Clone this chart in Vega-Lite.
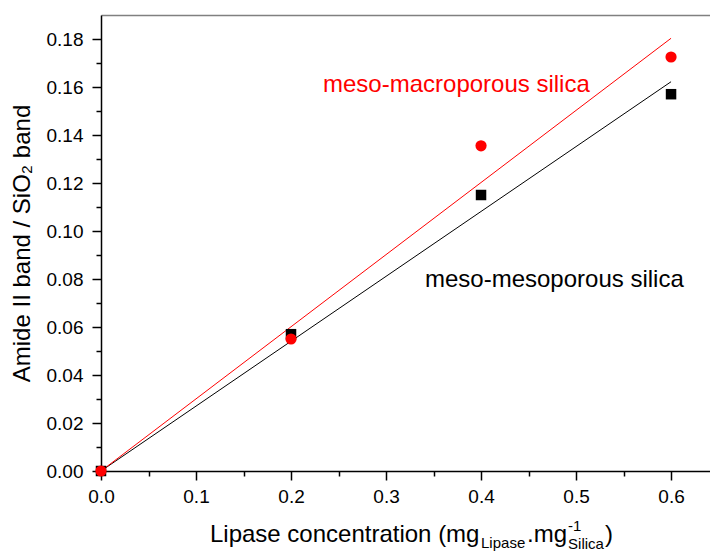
{
  "$schema": "https://vega.github.io/schema/vega-lite/v6.json",
  "width": 609,
  "height": 456,
  "autosize": {"type": "none"},
  "padding": {"left": 101, "top": 15, "right": 0, "bottom": 80},
  "config": {"view": {"stroke": null}, "font": "Liberation Sans"},
  "datasets": {
    "points": [
      {"series": "meso-mesoporous", "x": 0.0, "y": 0.0},
      {"series": "meso-mesoporous", "x": 0.2, "y": 0.057},
      {"series": "meso-mesoporous", "x": 0.4, "y": 0.115},
      {"series": "meso-mesoporous", "x": 0.6, "y": 0.157},
      {"series": "meso-macroporous", "x": 0.0, "y": 0.0},
      {"series": "meso-macroporous", "x": 0.2, "y": 0.055},
      {"series": "meso-macroporous", "x": 0.4, "y": 0.1355},
      {"series": "meso-macroporous", "x": 0.6, "y": 0.1725}
    ],
    "fits": [
      {"series": "meso-mesoporous", "x": 0.0, "y": 0.0},
      {"series": "meso-mesoporous", "x": 0.6, "y": 0.1622},
      {"series": "meso-macroporous", "x": 0.0, "y": 0.0},
      {"series": "meso-macroporous", "x": 0.6, "y": 0.1803}
    ],
    "one": [{}]
  },
  "resolve": {"axis": {"x": "independent", "y": "independent"}},
  "layer": [
    {
      "data": {"name": "fits"},
      "mark": {"type": "line", "strokeWidth": 1},
      "encoding": {
        "x": {"field": "x", "type": "quantitative", "scale": {"domain": [0, 0.641], "nice": false, "zero": false},
          "axis": {"orient": "top", "domainColor": "#808080", "domainWidth": 1.5, "ticks": false, "labels": false, "grid": false, "title": null}},
        "y": {"field": "y", "type": "quantitative", "scale": {"domain": [0, 0.19], "nice": false, "zero": false}, "axis": null},
        "color": {"field": "series", "type": "nominal", "scale": {"domain": ["meso-mesoporous", "meso-macroporous"], "range": ["#000000", "#ff0000"]}, "legend": null}
      }
    },
    {
      "data": {"name": "points"},
      "mark": {"type": "point", "filled": true, "opacity": 1},
      "encoding": {
        "x": {"field": "x", "type": "quantitative",
          "axis": {
            "orient": "bottom",
            "values": [0, 0.05, 0.1, 0.15, 0.2, 0.25, 0.3, 0.35, 0.4, 0.45, 0.5, 0.55, 0.6],
            "labelExpr": "abs(round(datum.value*10)-datum.value*10)<0.01 ? format(datum.value,'.1f') : ''",
            "tickSize": {"condition": {"test": "abs(round(datum.value*10)-datum.value*10)<0.01", "value": 9}, "value": 5},
            "tickColor": "#000000", "tickWidth": 1.5,
            "domainColor": "#000000", "domainWidth": 1.5,
            "labelFontSize": 19, "labelColor": "#000000", "labelPadding": 7,
            "labelFlush": false, "labelOverlap": false, "labelBound": false,
            "grid": false, "title": null
          }},
        "y": {"field": "y", "type": "quantitative",
          "axis": {
            "values": [0, 0.01, 0.02, 0.03, 0.04, 0.05, 0.06, 0.07, 0.08, 0.09, 0.1, 0.11, 0.12, 0.13, 0.14, 0.15, 0.16, 0.17, 0.18],
            "labelExpr": "abs(round(datum.value*50)-datum.value*50)<0.01 ? format(datum.value,'.2f') : ''",
            "tickSize": {"condition": {"test": "abs(round(datum.value*50)-datum.value*50)<0.01", "value": 9}, "value": 5},
            "tickColor": "#000000", "tickWidth": 1.5,
            "domainColor": "#000000", "domainWidth": 1.5,
            "labelFontSize": 19, "labelColor": "#000000", "labelPadding": 9,
            "labelFlush": false, "labelOverlap": false, "labelBound": false,
            "grid": false,
            "title": "Amide II band / SiO₂ band",
            "titleFontSize": 24, "titleFontWeight": "normal", "titleColor": "#000000", "titlePadding": 12
          }},
        "color": {"field": "series", "type": "nominal", "legend": null},
        "shape": {"field": "series", "type": "nominal", "scale": {"domain": ["meso-mesoporous", "meso-macroporous"], "range": ["square", "circle"]}, "legend": null},
        "size": {"field": "series", "type": "nominal", "scale": {"domain": ["meso-mesoporous", "meso-macroporous"], "range": [110, 125]}, "legend": null},
        "order": {"field": "series", "sort": "descending"}
      }
    },
    {
      "data": {"name": "one"},
      "mark": {"type": "text", "text": "meso-macroporous silica", "fontSize": 24, "color": "#ff0000", "align": "left", "baseline": "alphabetic"},
      "encoding": {"x": {"datum": 0.2337, "type": "quantitative", "axis": null}, "y": {"datum": 0.158, "type": "quantitative", "axis": null}}
    },
    {
      "data": {"name": "one"},
      "mark": {"type": "text", "text": "meso-mesoporous silica", "fontSize": 24, "color": "#000000", "align": "left", "baseline": "alphabetic"},
      "encoding": {"x": {"datum": 0.341, "type": "quantitative", "axis": null}, "y": {"datum": 0.0767, "type": "quantitative", "axis": null}}
    },
    {
      "data": {"name": "one"},
      "mark": {"type": "text", "text": "Lipase concentration (mg", "fontSize": 24, "color": "#000000", "align": "left", "baseline": "alphabetic"},
      "encoding": {"x": {"datum": 0.1147, "type": "quantitative", "axis": null}, "y": {"datum": -0.0296, "type": "quantitative", "axis": null}}
    },
    {
      "data": {"name": "one"},
      "mark": {"type": "text", "text": "Lipase", "fontSize": 15, "color": "#000000", "align": "left", "baseline": "alphabetic"},
      "encoding": {"x": {"datum": 0.4, "type": "quantitative", "axis": null}, "y": {"datum": -0.0321, "type": "quantitative", "axis": null}}
    },
    {
      "data": {"name": "one"},
      "mark": {"type": "text", "text": ".mg", "fontSize": 24, "color": "#000000", "align": "left", "baseline": "alphabetic"},
      "encoding": {"x": {"datum": 0.4484, "type": "quantitative", "axis": null}, "y": {"datum": -0.0296, "type": "quantitative", "axis": null}}
    },
    {
      "data": {"name": "one"},
      "mark": {"type": "text", "text": "-1", "fontSize": 15, "color": "#000000", "align": "left", "baseline": "alphabetic"},
      "encoding": {"x": {"datum": 0.4916, "type": "quantitative", "axis": null}, "y": {"datum": -0.025, "type": "quantitative", "axis": null}}
    },
    {
      "data": {"name": "one"},
      "mark": {"type": "text", "text": "Silica", "fontSize": 15, "color": "#000000", "align": "left", "baseline": "alphabetic"},
      "encoding": {"x": {"datum": 0.4916, "type": "quantitative", "axis": null}, "y": {"datum": -0.0325, "type": "quantitative", "axis": null}}
    },
    {
      "data": {"name": "one"},
      "mark": {"type": "text", "text": ")", "fontSize": 24, "color": "#000000", "align": "left", "baseline": "alphabetic"},
      "encoding": {"x": {"datum": 0.5305, "type": "quantitative", "axis": null}, "y": {"datum": -0.0296, "type": "quantitative", "axis": null}}
    }
  ]
}
